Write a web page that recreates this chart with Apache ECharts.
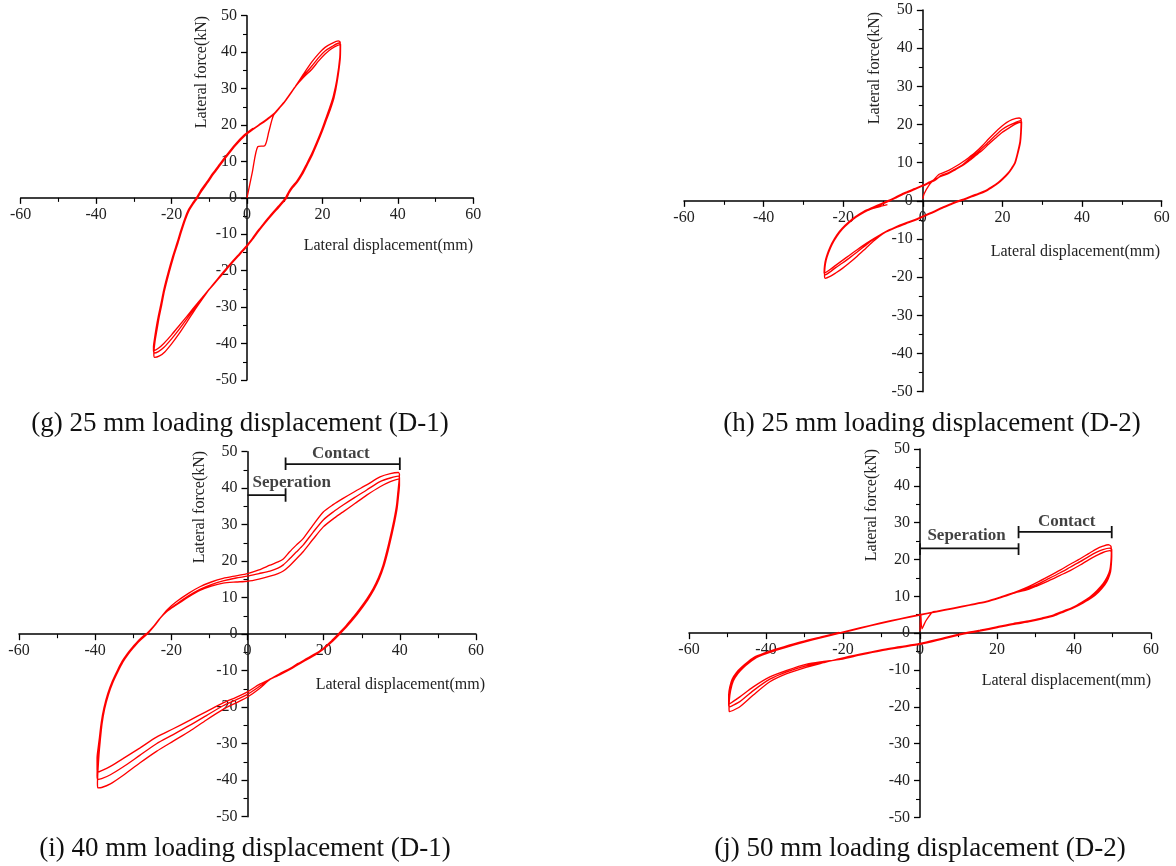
<!DOCTYPE html>
<html>
<head>
<meta charset="utf-8">
<script src="https://cdn.jsdelivr.net/npm/echarts@6/dist/echarts.min.js"></script>
<style>
html,body{margin:0;padding:0;background:#fff;}
#chart{width:1176px;height:866px;}
</style>
</head>
<body>
<div id="chart"></div>
<script>
// ---------- tick labels ----------
const xTicks = [-60, -40, -20, 0, 20, 40, 60];
const yTicks = [-50, -40, -30, -20, -10, 0, 10, 20, 30, 40, 50];

// ---------- texts ----------
const captions = [
  '(g) 25 mm loading displacement (D-1)',
  '(h) 25 mm loading displacement (D-2)',
  '(i) 40 mm loading displacement (D-1)',
  '(j) 50 mm loading displacement (D-2)'
];
const xName = 'Lateral displacement(mm)';
const yName = 'Lateral force(kN)';

// ---------- panel (g): 25 mm, D-1 ----------
const gInit = [[0,0],[1.4,7],[2.9,14.1],[4.7,14.3],[5.8,18.2],[7,22.6]];
const gCycle1 = [[8.5,24.5],[10.1,26.5],[12.7,30.4],[15,34],[17.2,37.3],[19,39.6],[20.7,41.3],[22.5,42.4],[24.2,43.1],[24.7,42.7],
 [24.6,38.5],[23.8,32.3],[22.9,28],[22,25],[20.8,21.5],[19.8,18.6],[18.5,15.3],[17.2,12.2],[15.8,9.3],[14.5,6.7],[13.2,4.6],[11.9,3],[11,1.6],[10.2,0],[8.3,-2.3],[6.5,-4.4],[4.7,-6.7],[3,-8.9],[1.5,-11],[0,-13],[-2,-15.3],[-4,-17.6],[-6,-20],[-8,-22.5],[-10,-25.1],[-12,-28],[-14,-31],[-16,-34.2],[-18,-37.3],[-20,-40.1],[-21.8,-42.3],[-23.2,-43.4],[-24.5,-43.8],
 [-24.7,-42.8],[-24.4,-39.5],[-23.9,-36.4],[-23.3,-32.8],[-22.6,-29.3],[-21.9,-25.6],[-20.7,-20.7],[-19.5,-16.3],[-18.3,-12.4],[-17.3,-9],[-16.3,-5.9],[-15.4,-3.6],[-14.2,-1.6],[-13.1,0],[-12.2,1.6],[-10.5,4.1],[-8.9,6.5],[-7,9.1],[-5.4,11.3],[-3,14.4],[-0.5,17.1],[1.8,18.9],[3.9,20.4],[5.5,21.6],[7,22.9],[8.5,24.6],[10.1,26.5],[12.7,30.3]];
const gCycle2 = [[15,33.5],[17.2,36.2],[19,38.5],[20.7,40.3],[22.5,41.5],[24.4,42.5],[24.8,42.1],
 [24.7,38.2],[23.9,32],[23,27.8],[22.1,24.8],[20.9,21.3],[19.9,18.5],[18.6,15.2],[17.3,12.1],[15.9,9.2],[14.6,6.6],[13.3,4.5],[12,2.9],[11.1,1.5],[10.3,-0.1],[8.4,-2.4],[6.6,-4.5],[4.8,-6.7],[3.1,-8.9],[1.6,-11],[0.1,-13],[-1.9,-15.3],[-3.9,-17.6],[-5.9,-20],[-7.9,-22.4],[-9.9,-24.9],[-12,-27.6],[-14,-30.4],[-16,-33.3],[-18,-36.1],[-20,-38.7],[-22,-41],[-23.5,-42.2],[-24.6,-42.6],
 [-24.8,-41.5],[-24.5,-39],[-24,-36],[-23.4,-32.6],[-22.7,-29.1],[-22,-25.5],[-20.8,-20.6],[-19.6,-16.2],[-18.4,-12.3],[-17.4,-8.9],[-16.4,-5.8],[-15.5,-3.5],[-14.3,-1.5],[-13.2,0.1],[-12.3,1.7],[-10.6,4.2],[-9,6.6],[-7.1,9.2],[-5.5,11.4],[-3.1,14.5],[-0.6,17.2],[1.7,19],[3.8,20.5],[5.4,21.7],[7,23],[8.5,24.7],[10.1,26.6],[12.7,30.4]];
const gCycle3 = [[15,33.1],[17.2,35.3],[19,37.6],[20.7,39.5],[22.5,41],[24.5,42],[24.8,41.7],
 [24.7,38],[23.9,31.8],[23.1,27.6],[22.2,24.6],[21,21.2],[20,18.4],[18.7,15.1],[17.4,12],[16,9.1],[14.7,6.5],[13.4,4.4],[12.1,2.8],[11.2,1.4],[10.4,-0.2],[8.5,-2.5],[6.7,-4.6],[4.9,-6.8],[3.2,-9],[1.7,-11.1],[0.2,-13.1],[-1.8,-15.4],[-3.8,-17.7],[-5.8,-20.1],[-7.8,-22.5],[-9.8,-24.9],[-11.9,-27.4],[-14,-30],[-16,-32.6],[-18,-35.1],[-20,-37.6],[-22,-39.9],[-23.5,-41.3],[-24.6,-41.9],
 [-24.8,-41],[-24.5,-38.5],[-24.1,-35.8],[-23.5,-32.4],[-22.8,-29],[-22.1,-25.4],[-20.9,-20.5],[-19.7,-16.1],[-18.5,-12.2],[-17.5,-8.8],[-16.5,-5.7],[-15.6,-3.4],[-14.4,-1.4],[-13.3,0.2],[-12.4,1.8],[-10.7,4.3],[-9.1,6.7],[-7.2,9.3],[-5.6,11.5],[-3.2,14.6],[-0.7,17.3],[1.6,19.1]];

// ---------- panel (h): 25 mm, D-2 ----------
const hInit = [[0,0.5],[0.3,1.8],[1.6,4.2],[2.8,5.6],[4,6.9]];
const hCycle1 = [[5,7.3],[6.5,8],[8.2,9],[9.9,10.1],[11.5,11.3],[13.2,12.7],[15,14.5],[16.5,16.2],[18.2,18],[19.9,19.6],[21,20.5],[22.4,21.3],[24.2,21.7],[24.7,21.4],
 [24.6,18],[24.4,15.5],[24.1,14],[23.6,11.8],[23.1,10],[22.3,8.6],[21.4,7.3],[20.1,5.9],[18.9,4.8],[17.2,3.6],[15.6,2.6],[13.9,1.9],[12.3,1.3],[10.6,0.6],[8.9,0],[7,-0.8],[4.9,-1.7],[2.5,-2.9],[0,-4],[-2,-4.9],[-4.3,-5.8],[-6.5,-6.7],[-8.5,-7.7],[-10.1,-8.7],[-12.2,-10.4],[-14.3,-12.4],[-16.5,-14.5],[-18.5,-16.3],[-20.2,-17.7],[-21.9,-18.9],[-23.3,-19.8],[-24.5,-20.3],
 [-24.7,-19.5],[-24.6,-17.5],[-24.3,-15.6],[-23.7,-13.6],[-22.8,-11.4],[-21.6,-9.3],[-20.2,-7.4],[-18.6,-5.8],[-16.8,-4.3],[-14.8,-3],[-12.5,-1.9],[-10.3,-0.9],[-8.5,-0.1],[-6.5,0.9],[-4.3,2],[-2,3],[0,3.9],[1.6,4.7],[3.2,5.5],[4.5,6.6],[6.5,7.4],[8.2,8.4],[9.9,9.4]];
const hCycle2 = [[11.5,10.8],[13.2,12.2],[15,13.9],[16.5,15.4],[18.2,17.1],[19.9,18.7],[21.5,19.7],[23.2,20.5],[24.5,21],[24.8,20.6],
 [24.7,17.8],[24.5,15.3],[24.2,13.8],[23.7,11.7],[23.2,9.9],[22.4,8.5],[21.5,7.2],[20.2,5.8],[19,4.7],[17.3,3.5],[15.7,2.5],[14,1.8],[12.4,1.2],[10.7,0.5],[9,-0.1],[7.1,-0.9],[5,-1.8],[2.6,-3],[0.1,-4.1],[-1.9,-5],[-4.2,-5.9],[-6.4,-6.8],[-8.5,-7.6],[-10.1,-8.5],[-12.2,-9.9],[-14.3,-11.6],[-16.5,-13.4],[-18.5,-15],[-20.2,-16.3],[-21.9,-17.5],[-23.3,-18.6],[-24.5,-19.4],
 [-24.8,-18.8],[-24.7,-17],[-24.4,-15.3],[-23.8,-13.4],[-22.9,-11.2],[-21.7,-9.1],[-20.3,-7.2],[-18.7,-5.6],[-16.9,-4.1],[-14.9,-2.8],[-12.6,-1.7],[-10.4,-0.7],[-8.6,0.1],[-6.6,1.1],[-4.4,2.2],[-2.1,3.2],[0,4.1],[1.6,4.9],[3.2,5.7],[4.5,6.4],[6.5,7.2],[8.2,8.2],[9.9,9.2]];
const hCycle3 = [[11.5,10.4],[13.2,11.8],[15,13.3],[16.5,14.8],[18.2,16.4],[19.9,17.9],[21.5,19],[23.2,20.1],[24.4,20.6],[24.7,20.2],
 [24.6,17.6],[24.4,15.1],[24.1,13.7],[23.6,11.6],[23.1,9.8],[22.3,8.4],[21.4,7.1],[20.1,5.7],[18.9,4.6],[17.2,3.4],[15.6,2.4],[13.9,1.7],[12.3,1.1],[10.6,0.4],[8.9,-0.2],[7,-1],[4.9,-1.9],[2.5,-3.1],[0,-4.2],[-2,-5.1],[-4.3,-6],[-6.5,-6.9],[-8.5,-7.8],[-10.1,-8.6],[-12.2,-9.8],[-14.3,-11.2],[-16.5,-12.8],[-18.5,-14.3],[-20.2,-15.6],[-21.9,-16.9],[-23.3,-18],[-24.5,-18.8],
 [-24.7,-18.2],[-24.6,-16.6],[-24.3,-15],[-23.7,-13.1],[-22.8,-11],[-21.6,-8.9],[-20.2,-7.1],[-18.6,-5.6],[-16.8,-4.2],[-14.8,-3],[-12.5,-2],[-10.5,-1.4],[-8.9,-1]];

// ---------- panel (i): 40 mm, D-1 ----------
const iCycle1 = [[-26.3,0],[-24.5,2.2],[-23,4.3],[-21,6.8],[-18.7,8.9],[-15.5,11.2],[-12.5,13],[-9.5,14.3],[-6.4,15.3],[-3,16],[0,16.6],[3,17.6],[5.9,18.9],[8,19.8],[9.4,20.6],[11,22.5],[12.8,24.4],[14.6,26.2],[17.2,29.9],[19.9,33.5],[22.5,35.5],[25.1,37.2],[28.2,39.1],[31.3,40.9],[34.8,43.1],[37.5,44],[39.6,44.3],[39.9,43.8],
 [39.8,42],[39.5,39],[39.1,35],[38.5,31.5],[37.8,28.1],[36.7,23.2],[35.6,18.9],[34.4,15.5],[33,12.5],[31.3,9.6],[29.5,7],[27.8,4.7],[26,2.5],[24.9,1.2],[23.8,0],[22,-1.9],[19.9,-3.9],[17.7,-5.4],[15.5,-6.7],[13.3,-8],[11.1,-9.4],[8.5,-10.8],[5.9,-12.4],[3,-15],[0,-17.2],[-3,-18.8],[-6.4,-20.6],[-10.8,-23.5],[-15.2,-26.6],[-19.5,-29.3],[-23.9,-32.1],[-28.3,-35.3],[-32.7,-38.7],[-36,-41],[-38.3,-42],[-39.3,-42.1],
 [-39.4,-41],[-39.3,-38],[-39,-33],[-38.7,-29.5],[-38.2,-24.6],[-37.5,-20.4],[-36.5,-16.5],[-35.3,-13.1],[-34,-10.2],[-32.7,-7.6],[-31.4,-5.6],[-30.1,-3.9],[-28.3,-1.8],[-26.4,0]];
const iCycle2 = [[-24.6,2.1],[-23.1,4.2],[-21,6.4],[-18.7,8.2],[-15.5,10.5],[-12.5,12.3],[-9.5,13.6],[-6.4,14.6],[-3,15.4],[0,15.9],[3,16.6],[5.9,17.3],[8,18.1],[9.4,19],[11,20.6],[12.8,22.5],[14.6,24.4],[17.2,27.9],[19.9,31.3],[22.5,33.5],[25.1,35.4],[28.2,37.5],[31.3,39.5],[34.8,41.8],[37.5,42.8],[39.6,43.3],[39.9,42.9],
 [39.9,41.5],[39.6,38.7],[39.2,34.8],[38.6,31.3],[37.9,27.9],[36.8,23],[35.7,18.8],[34.5,15.4],[33.1,12.4],[31.4,9.5],[29.6,6.9],[27.9,4.6],[26.1,2.4],[25,1.1],[23.9,-0.1],[22.1,-2],[20,-3.9],[17.8,-5.5],[15.6,-6.8],[13.4,-8.1],[11.2,-9.5],[8.6,-10.9],[5.9,-12.3],[3,-14.4],[0,-16.5],[-3,-18],[-6.4,-19.6],[-10.8,-22.3],[-15.2,-25],[-19.5,-27.5],[-23.9,-30],[-28.3,-33.2],[-32.7,-36.4],[-36,-38.5],[-38.3,-39.6],[-39.3,-39.8],
 [-39.5,-38.8],[-39.4,-36],[-39.1,-32],[-38.8,-29],[-38.3,-24.4],[-37.6,-20.3],[-36.6,-16.4],[-35.4,-13],[-34.1,-10.1],[-32.8,-7.5],[-31.5,-5.5],[-30.2,-3.8],[-28.4,-1.7],[-26.5,0.1]];
const iCycle3 = [[-24.7,2.1],[-23.2,4.1],[-21.1,6.3],[-18.7,8],[-15.5,10.2],[-12.5,12],[-9.5,13.2],[-6.4,14],[-3,14.3],[0,14.5],[3,15.1],[5.9,15.9],[8,16.6],[9.4,17.3],[11,18.7],[12.8,20.6],[14.6,22.6],[17.2,26],[19.9,29.4],[22.5,31.6],[25.1,33.5],[28.2,35.8],[31.3,38.1],[34.8,40.4],[37.5,41.8],[39.6,42.5],[39.9,42.1],
 [39.9,40.8],[39.7,38.4],[39.3,34.6],[38.7,31.1],[38,27.7],[36.9,22.8],[35.8,18.6],[34.6,15.2],[33.2,12.2],[31.5,9.3],[29.7,6.7],[28,4.4],[26.2,2.2],[25.1,1],[24,-0.2],[22.2,-2.1],[20.1,-4],[17.9,-5.6],[15.7,-6.9],[13.5,-8.2],[11.3,-9.6],[8.7,-11],[6,-12.3],[3,-13.8],[0,-15.8],[-3,-17.3],[-6.4,-18.8],[-10.8,-21.2],[-15.2,-23.6],[-19.5,-25.9],[-23.9,-28.2],[-28.3,-31.2],[-32.7,-34.1],[-36,-36.2],[-38.3,-37.4],[-39.3,-37.8],
 [-39.5,-37],[-39.5,-34],[-39.2,-31],[-38.9,-28.5],[-38.4,-24.2],[-37.7,-20.2],[-36.7,-16.3],[-35.5,-12.9],[-34.2,-10],[-32.9,-7.4],[-31.6,-5.4],[-30.3,-3.7],[-28.5,-1.6],[-26.6,0.2]];

// ---------- panel (j): 50 mm, D-2 ----------
const jInit = [[0,0.5],[0.2,5.2],[0.5,1.2],[1.5,3.3],[3.2,5.7]];
const jCycle1 = [[4.3,5.9],[8.7,6.8],[13,7.7],[17.3,8.6],[20.8,9.7],[24.2,10.9],[27.3,12.2],[30.3,13.7],[33.4,15.4],[36.4,17.1],[39,18.7],[41.6,20.2],[43.8,21.6],[45.9,22.9],[47.5,23.6],[48.9,24],[49.6,23.6],
 [49.7,22],[49.6,19.5],[49.3,17.1],[48.6,15.2],[47.6,13.5],[46,11.6],[44.2,9.9],[42,8.4],[39.8,7.1],[37.2,6],[34.6,4.9],[31.6,4.1],[28.6,3.4],[24.2,2.6],[19.9,1.7],[15.6,0.8],[11.3,0],[5.7,-1.4],[0,-2.8],[-5.2,-3.7],[-10.4,-4.6],[-15.6,-5.7],[-20.8,-6.9],[-25,-8],[-29.4,-9.2],[-34.6,-11],[-39,-13.2],[-43.3,-16.8],[-46.8,-20],[-48.6,-21],[-49.5,-21.3],
 [-49.6,-20.5],[-49.5,-18],[-49.2,-15.6],[-48.5,-13],[-47.3,-11],[-45.9,-9.4],[-44.2,-7.9],[-42.4,-6.6],[-39,-5.2],[-35,-3.9],[-30.3,-2.5],[-25.5,-1.2],[-20.8,0],[-15.6,1.3],[-10.4,2.6],[-5.2,3.8],[0,4.9],[4.3,5.8],[8.7,6.7],[13,7.6],[17.3,8.5],[20.8,9.6],[24.2,10.8]];
const jCycle2 = [[27.3,11.9],[30.3,13.2],[33.4,14.8],[36.4,16.4],[39,17.9],[41.6,19.4],[43.8,20.8],[45.9,22],[47.5,22.7],[49.2,23.1],[49.8,22.7],
 [49.8,21.5],[49.7,19.2],[49.4,16.9],[48.8,15],[47.8,13.3],[46.2,11.4],[44.4,9.8],[42.2,8.3],[39.9,7],[37.3,5.9],[34.7,4.8],[31.7,4],[28.7,3.3],[24.3,2.5],[20,1.6],[15.7,0.7],[11.4,-0.1],[5.8,-1.5],[0.1,-2.9],[-5.1,-3.8],[-10.3,-4.7],[-15.5,-5.8],[-20.7,-7],[-25,-7.9],[-29.4,-8.8],[-34.6,-10.5],[-39,-12.5],[-43.3,-15.6],[-46.8,-18.6],[-48.6,-19.6],[-49.5,-20],
 [-49.7,-19.3],[-49.6,-17.2],[-49.3,-15],[-48.7,-12.7],[-47.5,-10.8],[-46.1,-9.3],[-44.4,-7.8],[-42.6,-6.5],[-39.2,-5.1],[-35.2,-3.8],[-30.5,-2.4],[-25.6,-1.1],[-20.9,0.1],[-15.7,1.4],[-10.5,2.7],[-5.3,3.9],[-0.1,5],[4.2,5.9],[8.6,6.8],[12.9,7.7],[17.2,8.6],[20.7,9.7],[24.1,10.9]];
const jCycle3 = [[27.3,11.6],[30.3,12.8],[33.4,14.2],[36.4,15.7],[39,17],[41.6,18.5],[43.8,19.9],[45.9,21.1],[47.5,21.9],[49.3,22.4],[49.8,22],
 [49.8,20.8],[49.7,18.8],[49.5,16.7],[48.9,14.8],[48,13.1],[46.4,11.2],[44.6,9.6],[42.4,8.2],[40,6.9],[37.4,5.8],[34.8,4.7],[31.8,3.9],[28.8,3.2],[24.4,2.4],[20.1,1.5],[15.8,0.6],[11.5,-0.2],[5.9,-1.6],[0.2,-3],[-5,-3.9],[-10.2,-4.8],[-15.4,-5.9],[-20.6,-7.1],[-25,-7.7],[-29.4,-8.4],[-34.6,-10.1],[-39,-11.9],[-43.3,-14.6],[-46.8,-17.3],[-48.6,-18.6],[-49.5,-19.2],
 [-49.7,-18.6],[-49.7,-16.8],[-49.4,-14.6],[-48.8,-12.5],[-47.7,-10.7],[-46.3,-9.2],[-44.6,-7.7],[-42.8,-6.4],[-39.4,-5],[-35.4,-3.7],[-30.7,-2.3],[-25.7,-1],[-21,0.2]];

// ---------- annotation brackets (data coords) ----------
const iContact = [[10,48.4],[10,45],[10,46.6],[40,46.6],[40,48.4],[40,45]];
const iSeperation = [[0,38.1],[10,38.1],[10,40],[10,36.3]];
const jSeperation = [[0,24.4],[0,21.2],[0,23],[25.6,23],[25.6,24.4],[25.6,21.2]];
const jContact = [[25.6,29.1],[25.6,25.8],[25.6,27.5],[49.8,27.5],[49.8,29.1],[49.8,25.8]];
const iLabels = [[24.5,49.4,'Contact'],[11.6,41.5,'Seperation']];
const jLabels = [[12.1,26.4,'Seperation'],[38.1,30.3,'Contact']];

// ---------- layout ----------
const grids = [
  {left:20.7, top:15.7, width:452.6, height:364.3},
  {left:684, top:10, width:477.7, height:381.7},
  {left:19, top:451.7, width:457, height:365},
  {left:689, top:449, width:462, height:368.3}
];
grids.forEach(g => { g.containLabel = false; g.outerBoundsMode = 'none'; });
const SERIF = '"Liberation Serif", "Times New Roman", serif';
const axisLineStyle = {color:'#000', width:1.5};

function xAx(i){
  return {type:'value', gridIndex:i, min:-60, max:60, interval:20, position:'bottom',
    offset: -grids[i].height/2,
    axisLine:{onZero:false, lineStyle:axisLineStyle},
    axisTick:{length:6, lineStyle:{color:'#000', width:1.3}},
    minorTick:{show:true, splitNumber:2, length:4, lineStyle:{color:'#000', width:1.1}},
    splitLine:{show:false},
    axisLabel:{fontFamily:SERIF, fontSize:16, color:'#222', margin:9,
      formatter: v => xTicks.includes(v) ? String(v) : ''}
  };
}
function yAx(i){
  return {type:'value', gridIndex:i, min:-50, max:50, interval:10, position:'left',
    offset: -grids[i].width/2,
    axisLine:{onZero:false, lineStyle:axisLineStyle},
    axisTick:{length:6, lineStyle:{color:'#000', width:1.3}},
    minorTick:{show:true, splitNumber:2, length:4, lineStyle:{color:'#000', width:1.1}},
    splitLine:{show:false},
    axisLabel:{fontFamily:SERIF, fontSize:16, color:'#222', margin:10,
      formatter: v => yTicks.includes(v) ? String(v) : ''}
  };
}
function curve(i, data){
  return {type:'line', xAxisIndex:i, yAxisIndex:i, data:data, showSymbol:false, symbol:'none',
    smooth:0.25, lineStyle:{color:'#ff0000', width:1.35}, silent:true, z:3};
}
function bracket(i, data){
  return {type:'line', xAxisIndex:i, yAxisIndex:i, data:data, showSymbol:false, symbol:'none',
    lineStyle:{color:'#111', width:1.8}, silent:true, z:4};
}
function labels(i, data){
  return {type:'scatter', xAxisIndex:i, yAxisIndex:i, data:data, symbolSize:0, silent:true, z:5,
    label:{show:true, position:'inside', formatter: p => p.data[2],
      fontFamily:SERIF, fontWeight:'bold', fontSize:17, color:'#111'}};
}

const yNamePos = [[202,72],[875,68],[200,507],[872,505]];
const xNamePos = [[473,246],[1160,252],[485,685],[1151,681]];
const capPos = [[240,424],[932,424],[245,849],[920,849]];

const graphic = [];
for (let k=0;k<4;k++){
  graphic.push({type:'text', x:yNamePos[k][0], y:yNamePos[k][1], rotation:Math.PI/2,
    style:{text:yName, font:'16px '+SERIF, fill:'#222', align:'center', verticalAlign:'middle'}});
  graphic.push({type:'text', x:xNamePos[k][0], y:xNamePos[k][1],
    style:{text:xName, font:'16px '+SERIF, fill:'#222', align:'right', verticalAlign:'middle'}});
  graphic.push({type:'text', x:capPos[k][0], y:capPos[k][1],
    style:{text:captions[k], font:'27px '+SERIF, fill:'#111', align:'center', verticalAlign:'middle'}});
}

const option = {
  animation:false,
  backgroundColor:'#fff',
  grid: grids,
  xAxis: [0,1,2,3].map(xAx),
  yAxis: [0,1,2,3].map(yAx),
  series: [
    curve(0, [].concat(gInit, gCycle1, gCycle2, gCycle3)),
    curve(1, [].concat(hInit, hCycle1, hCycle2, hCycle3)),
    curve(2, [].concat(iCycle1, iCycle2, iCycle3)),
    curve(3, [].concat(jInit, jCycle1, jCycle2, jCycle3)),
    bracket(2, iContact), bracket(2, iSeperation),
    bracket(3, jSeperation), bracket(3, jContact),
    labels(2, iLabels), labels(3, jLabels)
  ],
  graphic: graphic
};
const chart = echarts.init(document.getElementById('chart'), null, {renderer:'canvas'});
chart.setOption(option);
</script>
</body>
</html>
